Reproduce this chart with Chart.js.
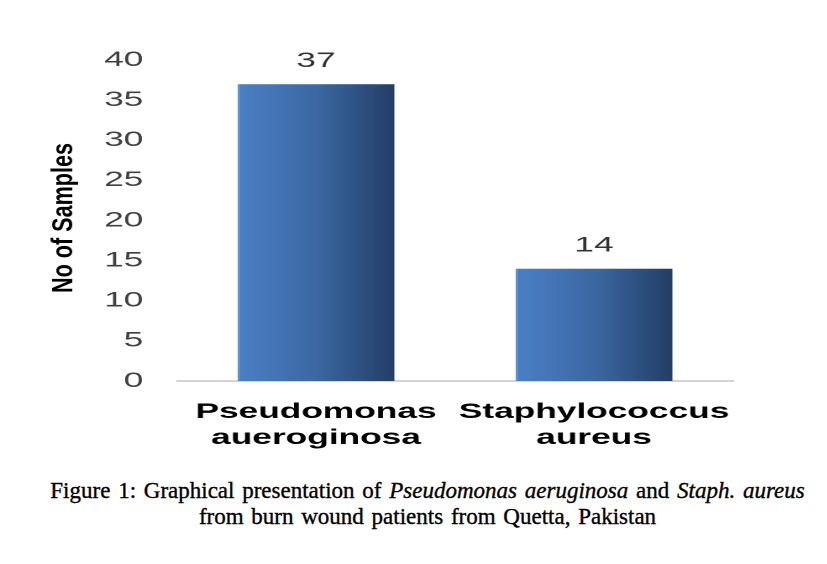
<!DOCTYPE html>
<html>
<head>
<meta charset="utf-8">
<script src="https://cdn.jsdelivr.net/npm/chart.js@4.4.0/dist/chart.umd.min.js"></script>
<style>
  html, body { margin: 0; padding: 0; background: #fff; width: 827px; height: 564px; overflow: hidden; }
  #wrap { position: absolute; left: 0; top: 0; height: 460px; transform-origin: 0 0; }
  #caption {
    position: absolute; left: 14px; top: 478px; width: 827px; text-align: center;
    font-family: 'Liberation Serif', serif; font-size: 23px; line-height: 26px;
    color: #000; word-spacing: 2px; -webkit-text-stroke: 0.35px #000;
  }
</style>
</head>
<body>
<div id="wrap"><canvas id="chart"></canvas></div>
<div id="caption">Figure 1: Graphical presentation of <i>Pseudomonas aeruginosa</i> and <i>Staph. aureus</i><br>from burn wound patients from Quetta, Pakistan</div>
<script>
// chart data
const categories = [['Pseudomonas', 'aueroginosa'], ['Staphylococcus', 'aureus']];
const samples = [37, 14];
const yTicks = [0, 5, 10, 15, 20, 25, 30, 35, 40];
const yTitle = 'No of Samples';

// the original picture is stretched sideways, so draw narrow and stretch the canvas
const STRETCH = 1.68;
const W = 827 / STRETCH;
const wrap = document.getElementById('wrap');
wrap.style.width = W + 'px';
wrap.style.transform = `scaleX(${STRETCH})`;

const BAR_PCT = 0.565;

function barGradient(ctx) {
  const chart = ctx.chart;
  const xs = chart.scales.x;
  if (!xs || !chart.chartArea) return '#3e6aa6';
  const cx = xs.getPixelForValue(ctx.dataIndex);
  const half = xs.width / categories.length * BAR_PCT / 2;
  const g = chart.ctx.createLinearGradient(cx - half, 0, cx + half, 0);
  g.addColorStop(0, '#4b80c6');
  g.addColorStop(0.5, '#3c68a3');
  g.addColorStop(1, '#233e66');
  return g;
}

// value labels above the bars
const valueLabels = {
  id: 'valueLabels',
  afterDatasetsDraw(chart) {
    const ctx = chart.ctx;
    const meta = chart.getDatasetMeta(0);
    ctx.save();
    ctx.font = '21px "Liberation Sans", Arial, sans-serif';
    ctx.fillStyle = '#333';
    ctx.textAlign = 'center';
    ctx.textBaseline = 'middle';
    meta.data.forEach((bar, i) => {
      ctx.fillText(String(samples[i]), bar.x, bar.y - 23);
    });
    ctx.restore();
  }
};

// y title drawn un-stretched, condensed to the original length
const sideTitle = {
  id: 'sideTitle',
  afterDraw(chart) {
    const ctx = chart.ctx;
    ctx.save();
    ctx.translate(64 / STRETCH, 218);
    ctx.scale(1 / STRETCH, 1);
    ctx.rotate(-Math.PI / 2);
    ctx.font = 'bold 30px "Liberation Sans Narrow", "Liberation Sans", Arial, sans-serif';
    const w = ctx.measureText(yTitle).width;
    ctx.scale(150 / w, 1);
    ctx.fillStyle = '#000';
    ctx.textAlign = 'center';
    ctx.textBaseline = 'middle';
    ctx.fillText(yTitle, 0, 0);
    ctx.restore();
  }
};

new Chart(document.getElementById('chart'), {
  type: 'bar',
  data: {
    labels: categories,
    datasets: [{
      data: samples,
      backgroundColor: barGradient,
      borderColor: '#5a8ccc',
      borderWidth: { left: 1, right: 0, top: 0, bottom: 0 },
      categoryPercentage: 1,
      barPercentage: BAR_PCT
    }]
  },
  options: {
    responsive: true,
    maintainAspectRatio: false,
    animation: false,
    devicePixelRatio: 2,
    layout: { padding: { left: 0, right: W - 733 / STRETCH, top: 60, bottom: 0 } },
    plugins: { legend: { display: false }, tooltip: { enabled: false } },
    scales: {
      x: {
        grid: { display: false, drawTicks: false },
        border: { display: true, color: '#a6a6a6', width: 1 },
        ticks: {
          padding: 18,
          color: '#000',
          font: { family: '"Liberation Sans", Arial, sans-serif', size: 21, weight: 'bold', lineHeight: 1.25 },
          maxRotation: 0,
          autoSkip: false
        },
        afterFit(scale) { scale.height = 460 - 381; }
      },
      y: {
        min: 0,
        max: 40,
        afterBuildTicks(scale) { scale.ticks = yTicks.map(v => ({ value: v })); },
        grid: { display: false, drawTicks: false },
        border: { display: false },
        ticks: {
          padding: 20,
          color: '#404040',
          font: { family: '"Liberation Sans", Arial, sans-serif', size: 21 }
        },
        afterFit(scale) { scale.width = 177 / STRETCH; }
      }
    }
  },
  plugins: [valueLabels, sideTitle]
});
</script>
</body>
</html>
